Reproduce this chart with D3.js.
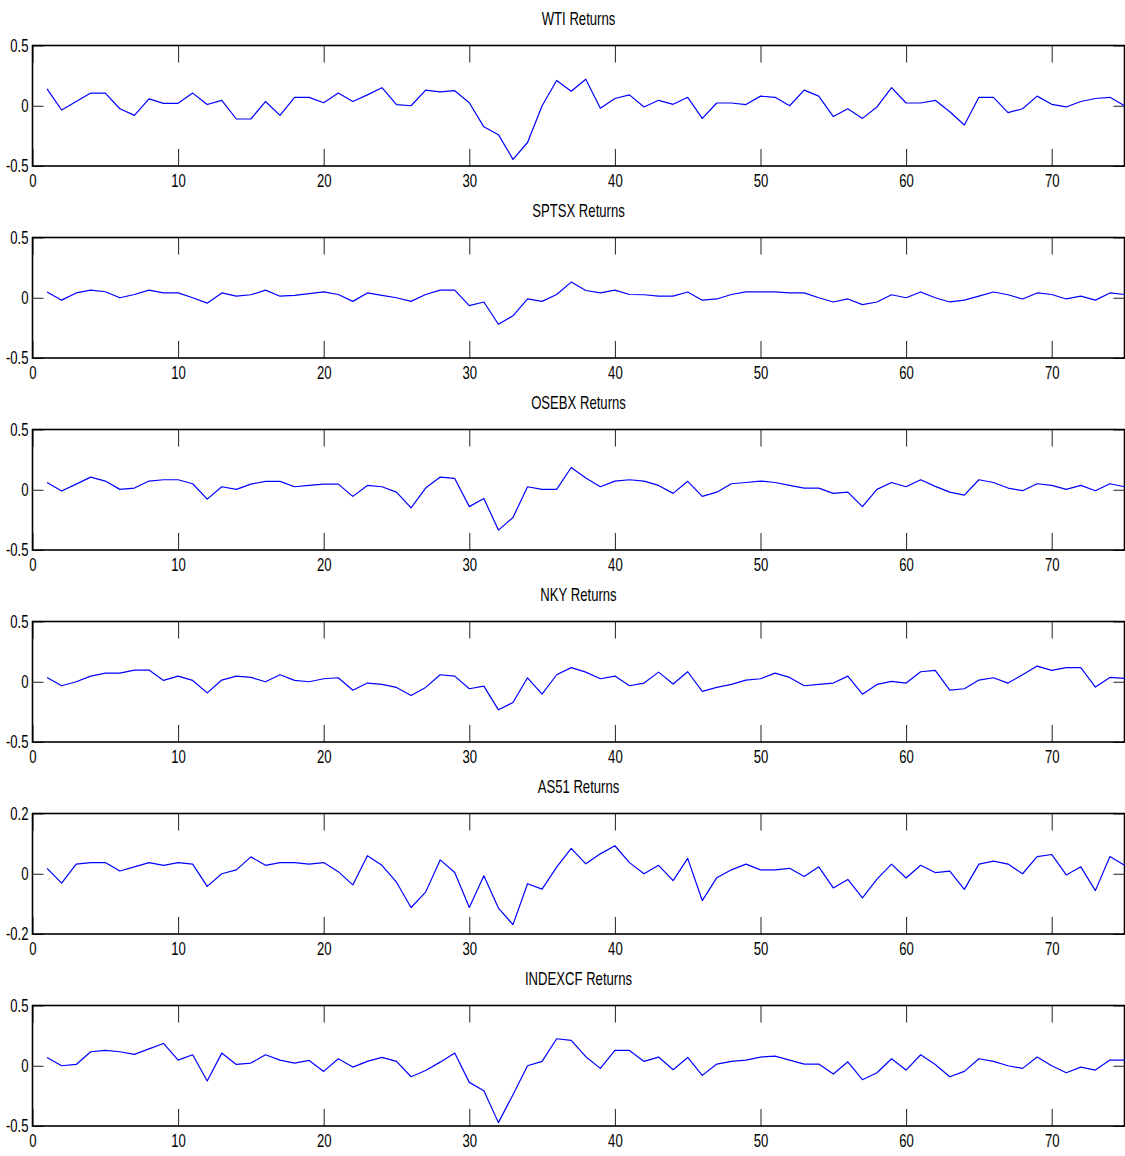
<!DOCTYPE html>
<html>
<head>
<meta charset="utf-8">
<script src="https://cdn.jsdelivr.net/npm/d3@7"></script>
<style>
  html, body { margin: 0; padding: 0; background: #fff; }
  svg { display: block; }
  text { font-family: "Liberation Sans", Arial, sans-serif; fill: #000; }
</style>
</head>
<body>
<svg id="chart" width="1125" height="1156"></svg>
<script>
// ---- data ----
const titles = ["WTI Returns", "SPTSX Returns", "OSEBX Returns", "NKY Returns", "AS51 Returns", "INDEXCF Returns"];
const xTicks = [0, 10, 20, 30, 40, 50, 60, 70];
const yTicksWide = [-0.5, 0, 0.5];
const yTicksNarrow = [-0.2, 0, 0.2];

const wti = [0.14,-0.035,0.035,0.105,0.105,-0.025,-0.08,0.057,0.02,0.02,
  0.105,0.01,0.045,-0.11,-0.11,0.035,-0.08,0.07,0.07,0.025,
  0.105,0.035,0.09,0.15,0.01,0.0,0.13,0.115,0.125,0.025,
  -0.175,-0.24,-0.445,-0.305,0.0,0.21,0.12,0.22,-0.02,0.06,
  0.09,-0.01,0.045,0.012,0.07,-0.105,0.023,0.023,0.01,0.08,
  0.07,0.0,0.13,0.08,-0.09,-0.025,-0.105,-0.01,0.15,0.023,
  0.023,0.045,-0.05,-0.16,0.07,0.07,-0.057,-0.025,0.08,0.012,
  -0.01,0.035,0.06,0.07,0.0];
const sptsx = [0.047,-0.02,0.04,0.063,0.05,0.0,0.027,0.063,0.04,0.04,
  0.0,-0.045,0.04,0.013,0.025,0.063,0.013,0.02,0.035,0.048,
  0.027,-0.03,0.04,0.02,0.0,-0.03,0.027,0.063,0.063,-0.065,
  -0.035,-0.22,-0.15,-0.01,-0.03,0.027,0.13,0.06,0.04,0.063,
  0.027,0.025,0.013,0.013,0.048,-0.02,-0.01,0.027,0.048,0.048,
  0.048,0.04,0.04,0.0,-0.035,-0.01,-0.057,-0.035,0.025,0.0,
  0.048,0.0,-0.035,-0.02,0.013,0.048,0.025,-0.01,0.04,0.027,
  -0.01,0.013,-0.02,0.04,0.027];
const osebx = [0.06,-0.01,0.047,0.105,0.072,0.003,0.014,0.072,0.083,0.083,
  0.05,-0.078,0.025,0.003,0.047,0.07,0.07,0.025,0.036,0.047,
  0.047,-0.055,0.036,0.025,-0.02,-0.15,0.014,0.105,0.094,-0.14,
  -0.072,-0.335,-0.23,0.025,0.003,0.003,0.185,0.097,0.025,0.072,
  0.083,0.072,0.036,-0.03,0.07,-0.055,-0.02,0.05,0.06,0.072,
  0.06,0.036,0.014,0.014,-0.03,-0.02,-0.14,0.003,0.06,0.025,
  0.083,0.028,-0.02,-0.045,0.083,0.06,0.014,-0.008,0.05,0.036,
  0.003,0.036,-0.008,0.05,0.025];
const nky = [0.036,-0.033,0.0,0.047,0.072,0.072,0.097,0.097,0.011,0.047,
  0.011,-0.092,0.014,0.047,0.036,0.0,0.058,0.011,0.0,0.025,
  0.033,-0.07,-0.011,-0.022,-0.047,-0.114,-0.047,0.058,0.047,-0.058,
  -0.036,-0.233,-0.172,0.033,-0.103,0.058,0.117,0.08,0.025,0.047,
  -0.033,-0.011,0.08,-0.019,0.083,-0.08,-0.047,-0.022,0.014,0.025,
  0.072,0.036,-0.033,-0.022,-0.011,0.047,-0.103,-0.022,0.003,-0.011,
  0.083,0.094,-0.07,-0.058,0.014,0.033,-0.011,0.058,0.13,0.094,
  0.117,0.117,-0.044,0.036,0.028];
const as51 = [0.018,-0.031,0.032,0.037,0.037,0.009,0.023,0.037,0.028,0.037,
  0.032,-0.042,0.0,0.013,0.056,0.028,0.037,0.037,0.032,0.037,
  0.007,-0.037,0.06,0.028,-0.028,-0.112,-0.061,0.046,0.004,-0.112,
  -0.007,-0.114,-0.169,-0.033,-0.051,0.022,0.084,0.033,0.066,0.093,
  0.037,0.0,0.028,-0.023,0.051,-0.089,-0.013,0.013,0.032,0.013,
  0.013,0.018,-0.009,0.023,-0.047,-0.019,-0.08,-0.018,0.032,-0.014,
  0.028,0.004,0.009,-0.052,0.032,0.042,0.032,0.0,0.057,0.064,
  -0.004,0.023,-0.056,0.057,0.028];
const indexcf = [0.069,0.0,0.011,0.116,0.127,0.116,0.094,0.14,0.185,0.047,
  0.091,-0.127,0.105,0.011,0.022,0.091,0.047,0.022,0.044,-0.047,
  0.058,-0.011,0.036,0.069,0.036,-0.091,-0.04,0.03,0.105,-0.138,
  -0.207,-0.472,-0.24,0.0,0.036,0.224,0.21,0.075,-0.022,0.127,
  0.127,0.036,0.072,-0.033,0.069,-0.08,0.014,0.036,0.047,0.072,
  0.08,0.047,0.014,0.014,-0.069,0.033,-0.116,-0.058,0.058,-0.036,
  0.091,0.011,-0.091,-0.047,0.058,0.036,0.0,-0.022,0.072,0.0,
  -0.058,-0.011,-0.036,0.047,0.047];

const series = [wti, sptsx, osebx, nky, as51, indexcf];
const yDomains = [[-0.5,0.5],[-0.5,0.5],[-0.5,0.5],[-0.5,0.5],[-0.2,0.2],[-0.5,0.5]];
const yTickSets = [yTicksWide, yTicksWide, yTicksWide, yTicksWide, yTicksNarrow, yTicksWide];

// ---- layout ----
const svg = d3.select("#chart");
const left = 32.5, right = 1124.5;
const firstTop = 45.5, step = 192, plotH = 120.5;
const fontSize = 17.5, squeeze = 0.75;

const x = d3.scaleLinear().domain([0, 75]).range([left, right]);

series.forEach((vals, k) => {
  const top = firstTop + k * step;
  const bottom = top + plotH;
  const y = d3.scaleLinear().domain(yDomains[k]).range([bottom, top]);
  const g = svg.append("g");

  // title
  g.append("text")
    .attr("transform", `translate(${(left + right) / 2},${top - 21}) scale(${squeeze},1)`)
    .attr("text-anchor", "middle")
    .style("font-size", fontSize + "px")
    .text(titles[k]);

  // axes (ticks pointing inward, MATLAB style)
  const axB = g.append("g").attr("transform", `translate(0,${bottom})`)
    .call(d3.axisBottom(x).tickValues(xTicks).tickSize(-17).tickPadding(9).tickFormat(d3.format("d")));
  const axT = g.append("g").attr("transform", `translate(0,${top})`)
    .call(d3.axisTop(x).tickValues(xTicks).tickSize(-17).tickFormat(""));
  const axL = g.append("g").attr("transform", `translate(${left},0)`)
    .call(d3.axisLeft(y).tickValues(yTickSets[k]).tickSize(-11).tickPadding(4)
      .tickFormat(d => d === 0 ? "0" : String(d)));
  const axR = g.append("g").attr("transform", `translate(${right},0)`)
    .call(d3.axisRight(y).tickValues(yTickSets[k]).tickSize(-11).tickFormat(""));

  [axB, axT, axL, axR].forEach(a => {
    a.select(".domain").remove();
    a.selectAll(".tick line").attr("stroke", "#222").attr("stroke-width", 1);
    a.selectAll("text").style("font-size", fontSize + "px")
      .style("font-family", "'Liberation Sans', Arial, sans-serif").attr("fill", "#000");
  });
  axB.selectAll(".tick text").each(function () {
    const t = d3.select(this);
    const yy = +t.attr("y");
    t.attr("y", 0).attr("transform", `translate(0,${yy}) scale(${squeeze},1)`);
  });
  axL.selectAll(".tick text").each(function () {
    const t = d3.select(this);
    const xx = +t.attr("x");
    t.attr("x", 0).attr("transform", `translate(${xx},0) scale(${squeeze},1)`);
  });

  // box
  g.append("rect")
    .attr("x", left).attr("y", top)
    .attr("width", right - left).attr("height", bottom - top)
    .attr("fill", "none").attr("stroke", "#000").attr("stroke-width", 1.6);

  // series line
  const line = d3.line().x((d, i) => x(i + 1)).y(d => y(d));
  g.append("path").datum(vals)
    .attr("d", line)
    .attr("fill", "none")
    .attr("stroke", "#0000ff")
    .attr("stroke-width", 1.2)
    .attr("stroke-linejoin", "round");
});
</script>
</body>
</html>
